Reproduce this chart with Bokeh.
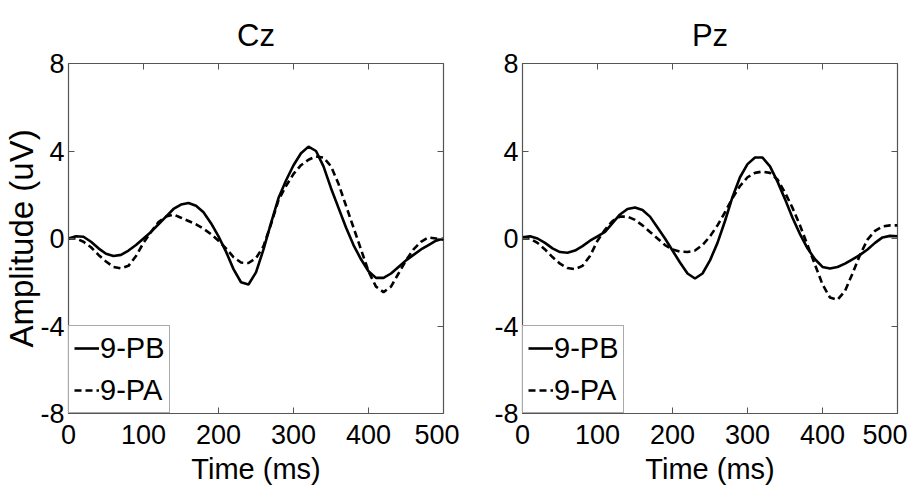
from bokeh.plotting import figure
from bokeh.layouts import row
from bokeh.models import LinearAxis, FixedTicker, Range1d
from bokeh.embed import file_html
from bokeh.resources import INLINE

time_ms = list(range(0, 501, 10))

cz_pb = [0.0, 0.1, 0.08, -0.15, -0.45, -0.7, -0.8, -0.75, -0.55, -0.3,
         0.0, 0.3, 0.65, 1.0, 1.35, 1.55, 1.62, 1.5, 1.2, 0.7,
         0.1, -0.6, -1.4, -2.0, -2.1, -1.55, -0.5, 0.7, 1.85, 2.65,
         3.35, 3.9, 4.2, 4.0, 3.3, 2.3, 1.4, 0.5, -0.3, -0.95,
         -1.5, -1.8, -1.8, -1.6, -1.3, -1.0, -0.75, -0.5, -0.3, -0.1, 0.0]
cz_pa = [0.0, 0.0, -0.15, -0.4, -0.75, -1.05, -1.3, -1.37, -1.25, -0.8,
         -0.2, 0.3, 0.75, 1.0, 1.1, 0.95, 0.8, 0.65, 0.45, 0.2,
         -0.1, -0.45, -0.85, -1.1, -1.12, -0.9, -0.35, 0.65, 1.75, 2.4,
         2.95, 3.35, 3.6, 3.75, 3.7, 3.3, 2.5, 1.5, 0.5, -0.5,
         -1.5, -2.2, -2.45, -2.2, -1.6, -1.0, -0.5, -0.15, 0.05, 0.0, -0.05]
pz_pb = [0.05, 0.1, 0.0, -0.2, -0.45, -0.62, -0.65, -0.55, -0.35, -0.1,
         0.1, 0.3, 0.7, 1.1, 1.35, 1.42, 1.3, 1.0, 0.5, 0.0,
         -0.55, -1.1, -1.6, -1.83, -1.6, -1.0, -0.2, 0.8, 1.9, 2.8,
         3.4, 3.7, 3.7, 3.3, 2.6, 1.8, 0.95, 0.2, -0.45, -0.95,
         -1.3, -1.37, -1.3, -1.15, -0.95, -0.75, -0.5, -0.2, 0.05, 0.12, 0.1]
pz_pa = [0.0, 0.0, -0.2, -0.5, -0.85, -1.15, -1.35, -1.4, -1.25, -0.8,
         -0.1, 0.4, 0.8, 1.0, 1.0, 0.85, 0.6, 0.3, 0.0, -0.3,
         -0.5, -0.6, -0.62, -0.55, -0.3, 0.1, 0.6, 1.2, 1.85, 2.4,
         2.8, 3.0, 3.06, 3.0, 2.7, 2.1, 1.4, 0.6, -0.3, -1.2,
         -2.1, -2.7, -2.8, -2.4, -1.6, -0.75, -0.05, 0.35, 0.55, 0.6, 0.6]

x_ticks = [0, 100, 200, 300, 400, 500]
y_ticks = [-8, -4, 0, 4, 8]
y_tick_labels = ["-8", "-4", "0", "4", "8"]
series_labels = ["9-PB", "9-PA"]
panels = [("Cz", cz_pb, cz_pa), ("Pz", pz_pb, pz_pa)]

FONT = "'Liberation Sans', Arial, sans-serif"
AX = "#555555"


def make_panel(title, pb, pa, with_ylabel, border_left, border_right):
    p = figure(width=None, height=None, frame_width=375, frame_height=350,
               min_border_left=border_left, min_border_right=border_right,
               min_border_top=63, min_border_bottom=70,
               x_range=Range1d(x_ticks[0], x_ticks[-1]),
               y_range=Range1d(y_ticks[0], y_ticks[-1]),
               output_backend="svg", toolbar_location=None,
               title=title)
    p.title.align = "center"
    p.title.text_font = FONT
    p.title.text_font_size = "31px"
    p.title.text_font_style = "normal"
    p.title.text_color = "black"
    p.title.standoff = 21
    p.grid.visible = False
    p.outline_line_color = AX
    p.outline_line_width = 1.2

    for ax in p.xaxis + p.yaxis:
        ax.major_tick_in = 6
        ax.major_tick_out = 0
        ax.minor_tick_line_color = None
        ax.axis_line_color = AX
        ax.major_tick_line_color = AX
        ax.major_label_text_font = FONT
        ax.major_label_text_font_size = "27px"
        ax.major_label_text_color = "black"
        ax.axis_label_text_color = "black"
    p.xaxis.ticker = FixedTicker(ticks=x_ticks)
    p.yaxis.ticker = FixedTicker(ticks=y_ticks)
    p.yaxis.major_label_overrides = {t: s for t, s in zip(y_ticks, y_tick_labels)}
    p.xaxis.major_label_standoff = 11
    p.yaxis.major_label_standoff = 4
    p.xaxis.axis_label = "Time (ms)"
    p.xaxis.axis_label_text_font = FONT
    p.xaxis.axis_label_text_font_size = "29px"
    p.xaxis.axis_label_text_font_style = "normal"
    p.xaxis.axis_label_standoff = 6
    if with_ylabel:
        p.yaxis.axis_label = "Amplitude (uV)"
        p.yaxis.axis_label_text_font = FONT
        p.yaxis.axis_label_text_font_size = "33px"
        p.yaxis.axis_label_text_font_style = "normal"
        p.yaxis.axis_label_standoff = -3

    # box ticks on top and right (no labels)
    top = LinearAxis(ticker=FixedTicker(ticks=x_ticks), major_tick_in=6, major_tick_out=0,
                     minor_tick_line_color=None, axis_line_color=None,
                     major_tick_line_color=AX, major_label_text_font_size="1px",
                     major_label_overrides={t: "" for t in x_ticks},
                     major_label_standoff=0)
    right = LinearAxis(ticker=FixedTicker(ticks=y_ticks), major_tick_in=6, major_tick_out=0,
                       minor_tick_line_color=None, axis_line_color=None,
                       major_tick_line_color=AX, major_label_text_font_size="1px",
                       major_label_overrides={t: "" for t in y_ticks},
                       major_label_standoff=0)
    p.add_layout(top, "above")
    p.add_layout(right, "right")

    p.line(time_ms, pb, line_color="black", line_width=2.6, legend_label=series_labels[0])
    p.line(time_ms, pa, line_color="black", line_width=2.6, line_dash="7 4",
           legend_label=series_labels[1])

    lg = p.legend[0]
    lg.location = "bottom_left"
    lg.margin = 0
    lg.padding = 5
    lg.spacing = 8
    lg.glyph_width = 25
    lg.glyph_height = 34
    lg.label_height = 34
    lg.label_standoff = 1
    lg.label_text_font = FONT
    lg.label_text_font_size = "29px"
    lg.label_text_color = "black"
    lg.border_line_color = AX
    lg.border_line_width = 1.2
    lg.background_fill_alpha = 1
    return p


p1 = make_panel(*panels[0], True, 63, 16)
p2 = make_panel(*panels[1], False, 63, 10)
layout = row(p1, p2)

open("out.html", "w").write(file_html(layout, INLINE))
